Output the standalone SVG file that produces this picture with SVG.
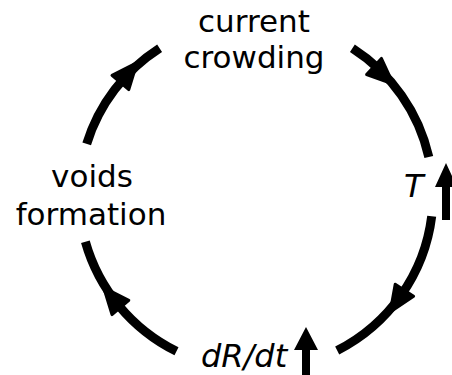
<svg xmlns="http://www.w3.org/2000/svg" width="452" height="375" viewBox="0 0 452 375">
<style>
.lbl{font-family:"DejaVu Sans","Liberation Sans",sans-serif;font-size:31px;fill:#000;text-anchor:middle}
.var{font-family:"DejaVu Sans","Liberation Sans",sans-serif;font-size:32px;font-style:italic;fill:#000}
.arc{fill:none;stroke:#000;stroke-width:9;stroke-linecap:butt}
.head{fill:#000;stroke:#000;stroke-width:3;stroke-linejoin:round}
.up{fill:#000}
</style>
<rect width="452" height="375" fill="#fff"/>
<g id="connectors">
<path class="arc" d="M352.4,48.2 A177,175 0 0 1 428.8,157.1"/>
<polygon class="head" points="381.4,58.4 393.2,84.0 366.6,74.6"/>
<path class="arc" d="M431.7,216.3 A177,175 0 0 1 337.2,350.5"/>
<polygon class="head" points="413.6,296.3 390.2,312.1 395.2,284.3"/>
<path class="arc" d="M176.5,351.3 A177,175 0 0 1 85.4,241.8"/>
<polygon class="head" points="112.0,314.6 103.7,287.6 128.8,300.4"/>
<path class="arc" d="M86.7,143.8 A177,175 0 0 1 159.6,48.2"/>
<polygon class="head" points="112.0,75.4 137.1,62.6 128.8,89.6"/>
</g>
<g id="node-current-crowding">
<text class="lbl" x="254" y="32">current</text>
<text class="lbl" x="254" y="68">crowding</text>
</g>
<g id="node-T">
<text class="var" x="404" y="197">T</text>
<path class="up" d="M446,163 L457,187 L450,187 L450,220 L442,220 L442,187 L435,187 Z"/>
</g>
<g id="node-dRdt">
<text class="var" x="201" y="367">dR/dt</text>
<path class="up" d="M306,327 L318,350 L310,350 L310,376 L302,376 L302,350 L294,350 Z"/>
</g>
<g id="node-voids-formation">
<text class="lbl" x="92" y="187">voids</text>
<text class="lbl" x="91" y="225">formation</text>
</g>
</svg>
